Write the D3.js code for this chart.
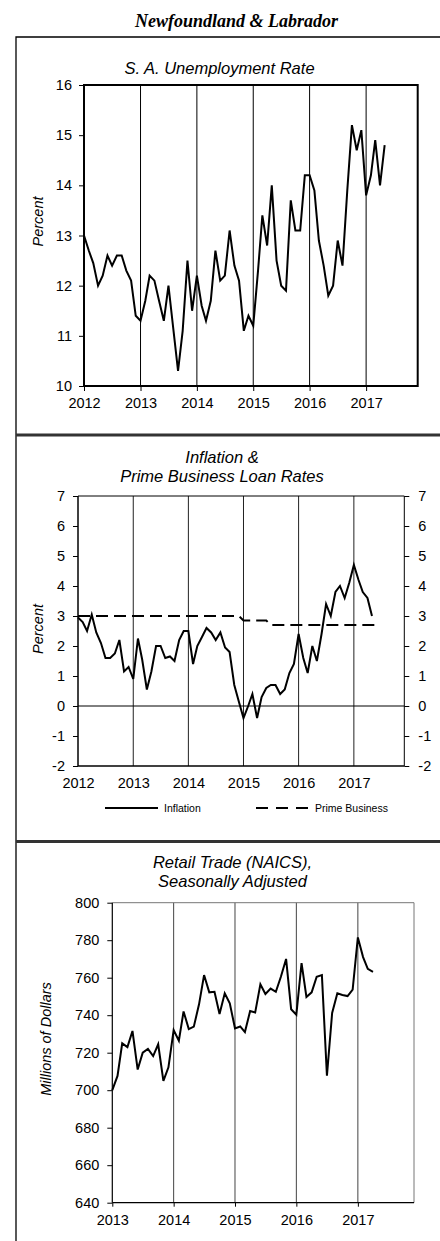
<!DOCTYPE html>
<html>
<head>
<meta charset="utf-8">
<script src="https://cdn.jsdelivr.net/npm/d3@7"></script>
<style>
  body { margin: 0; background: #fff; }
  svg { display: block; }
</style>
</head>
<body>
<div id="chart"></div>
<script>
// Newfoundland & Labrador - three stacked monthly charts

// --- data ---
const years1 = [2012, 2013, 2014, 2015, 2016, 2017];
const years3 = [2013, 2014, 2015, 2016, 2017];

// S.A. unemployment rate, Jan 2012 -> May 2017
const unemployment = [13.0, 12.7, 12.45, 12.0, 12.2, 12.6, 12.4, 12.6, 12.6, 12.3, 12.1, 11.4,
  11.3, 11.7, 12.2, 12.1, 11.7, 11.3, 12.0, 11.15, 10.3, 11.1, 12.5, 11.5,
  12.2, 11.6, 11.3, 11.7, 12.7, 12.1, 12.2, 13.1, 12.4, 12.1, 11.1, 11.4,
  11.2, 12.3, 13.4, 12.8, 14.0, 12.5, 12.0, 11.9, 13.7, 13.1, 13.1, 14.2,
  14.2, 13.9, 12.9, 12.4, 11.8, 12.0, 12.9, 12.4, 13.9, 15.2, 14.7, 15.1,
  13.8, 14.2, 14.9, 14.0, 14.8];

// Inflation, Jan 2012 -> May 2017
const inflation = [2.95, 2.8, 2.5, 3.05, 2.45, 2.1, 1.6, 1.6, 1.75, 2.2, 1.15, 1.3,
  0.9, 2.25, 1.55, 0.55, 1.15, 2.0, 2.0, 1.6, 1.65, 1.5, 2.2, 2.5,
  2.5, 1.4, 2.0, 2.3, 2.6, 2.45, 2.2, 2.45, 1.95, 1.8, 0.7, 0.15,
  -0.4, 0.0, 0.4, -0.4, 0.3, 0.6, 0.7, 0.7, 0.4, 0.55, 1.1, 1.4,
  2.4, 1.6, 1.1, 2.0, 1.5, 2.4, 3.4, 3.0, 3.8, 4.0, 3.6, 4.1,
  4.7, 4.2, 3.8, 3.6, 3.0];

// Prime business rate, Jan 2012 -> Jun 2017
const prime = [3.0, 3.0, 3.0, 3.0, 3.0, 3.0, 3.0, 3.0, 3.0, 3.0, 3.0, 3.0,
  3.0, 3.0, 3.0, 3.0, 3.0, 3.0, 3.0, 3.0, 3.0, 3.0, 3.0, 3.0,
  3.0, 3.0, 3.0, 3.0, 3.0, 3.0, 3.0, 3.0, 3.0, 3.0, 3.0, 3.0,
  2.85, 2.85, 2.85, 2.85, 2.85, 2.85, 2.7, 2.7, 2.7, 2.7, 2.7, 2.7,
  2.7, 2.7, 2.7, 2.7, 2.7, 2.7, 2.7, 2.7, 2.7, 2.7, 2.7, 2.7,
  2.7, 2.7, 2.7, 2.7, 2.7, 2.7];

// Retail trade (NAICS) s.a., millions of $, Jan 2013 -> Apr 2017
const retail = [700, 707.6, 725, 723, 731.6, 711, 720, 722, 718.2, 724.5, 705, 712.2,
  732.1, 726.4, 742, 732.6, 733.9, 745.8, 761.4, 752.2, 752.5, 740.6, 751.7, 746.3,
  733, 734, 731, 742.2, 741.4, 756.5, 751.3, 754.2, 752.5, 760.5, 770, 743.2,
  740.3, 767.8, 749.7, 752.2, 760.5, 761.4, 707.7, 741.2, 751.7, 750.8, 750.2, 753.6,
  781.5, 771, 764.7, 763.1];

const start1 = new Date(2012, 0, 1);
const start3 = new Date(2013, 0, 1);
const end = new Date(2017, 11, 1);

function monthly(values, start) {
  return values.map(function(v, i) { return {date: d3.timeMonth.offset(start, i), value: v}; });
}

const font = "'Liberation Sans', Arial, sans-serif";
const plain = function(d) { return String(d); };

const svg = d3.select("#chart").append("svg")
  .attr("width", 440)
  .attr("height", 1241);

// outer box + separators
svg.append("path")
  .attr("d", "M16,1241V37H440")
  .attr("fill", "none")
  .attr("stroke", "#000")
  .attr("stroke-width", 1.3);

[435, 841.5].forEach(function(y) {
  svg.append("line")
    .attr("x1", 16).attr("x2", 440)
    .attr("y1", y).attr("y2", y)
    .attr("stroke", "#333")
    .attr("stroke-width", 3);
});

svg.append("text")
  .attr("x", 236.5)
  .attr("y", 27)
  .attr("text-anchor", "middle")
  .attr("font-family", "'Liberation Serif', 'Times New Roman', serif")
  .attr("font-weight", "bold")
  .attr("font-style", "italic")
  .attr("font-size", 18)
  .text("Newfoundland & Labrador");

function styleAxis(g) {
  g.attr("font-family", font).attr("font-size", 14.5);
  g.select(".domain").remove();
  g.selectAll(".tick line").attr("stroke", "#000");
  g.selectAll(".tick text").attr("fill", "#000");
}

function title(lines, x, y) {
  lines.forEach(function(t, i) {
    svg.append("text")
      .attr("x", x)
      .attr("y", y + i * 18.5)
      .attr("text-anchor", "middle")
      .attr("font-family", font)
      .attr("font-style", "italic")
      .attr("font-size", 16.5)
      .text(t);
  });
}

function yLabel(t, x, y) {
  svg.append("text")
    .attr("transform", "translate(" + x + "," + y + ") rotate(-90)")
    .attr("text-anchor", "middle")
    .attr("font-family", font)
    .attr("font-style", "italic")
    .attr("font-size", 14.5)
    .text(t);
}

// ---------- Graph 1: unemployment ----------
const x1 = d3.scaleTime().domain([start1, end]).range([84, 417.7]);
const y1 = d3.scaleLinear().domain([10, 16]).range([386, 85]);

title(["S. A. Unemployment Rate"], 219.5, 74);
yLabel("Percent", 42.5, 221.5);

svg.append("g")
  .selectAll("line")
  .data(years1.slice(1))
  .enter().append("line")
  .attr("x1", function(d) { return x1(new Date(d, 0, 1)); })
  .attr("x2", function(d) { return x1(new Date(d, 0, 1)); })
  .attr("y1", y1(10)).attr("y2", y1(16))
  .attr("stroke", "#000")
  .attr("stroke-width", 1);

svg.append("g")
  .attr("transform", "translate(84,0)")
  .call(d3.axisLeft(y1).tickValues([10, 11, 12, 13, 14, 15, 16]).tickSize(5).tickPadding(7).tickFormat(plain))
  .call(styleAxis);

svg.append("g")
  .attr("transform", "translate(0,386)")
  .call(d3.axisBottom(x1).tickValues(years1.map(function(d) { return new Date(d, 0, 1); }))
    .tickFormat(d3.timeFormat("%Y")).tickSize(5).tickPadding(7))
  .call(styleAxis);

svg.append("rect")
  .attr("x", 84).attr("y", 85)
  .attr("width", 417.7 - 84).attr("height", 386 - 85)
  .attr("fill", "none")
  .attr("stroke", "#000")
  .attr("stroke-width", 2);

svg.append("path")
  .datum(monthly(unemployment, start1))
  .attr("fill", "none")
  .attr("stroke", "#000")
  .attr("stroke-width", 2)
  .attr("d", d3.line().x(function(d) { return x1(d.date); }).y(function(d) { return y1(d.value); }));

// ---------- Graph 2: inflation & prime ----------
const x2 = d3.scaleTime().domain([start1, end]).range([78, 404.3]);
const y2 = d3.scaleLinear().domain([-2, 7]).range([766, 496]);

title(["Inflation &", "Prime Business Loan Rates"], 222, 463);
yLabel("Percent", 42.5, 629);

svg.append("g")
  .selectAll("line")
  .data(years1.slice(1))
  .enter().append("line")
  .attr("x1", function(d) { return x2(new Date(d, 0, 1)); })
  .attr("x2", function(d) { return x2(new Date(d, 0, 1)); })
  .attr("y1", y2(-2)).attr("y2", y2(7))
  .attr("stroke", "#222")
  .attr("stroke-width", 1);

const ticks2 = [-2, -1, 0, 1, 2, 3, 4, 5, 6, 7];
svg.append("g")
  .attr("transform", "translate(78,0)")
  .call(d3.axisLeft(y2).tickValues(ticks2).tickSize(5).tickPadding(8).tickFormat(plain))
  .call(styleAxis);

svg.append("g")
  .attr("transform", "translate(404.3,0)")
  .call(d3.axisRight(y2).tickValues(ticks2).tickSize(5).tickPadding(9).tickFormat(plain))
  .call(styleAxis);

svg.append("g")
  .attr("transform", "translate(0,766)")
  .call(d3.axisBottom(x2).tickValues(years1.map(function(d) { return new Date(d, 0, 1); }))
    .tickFormat(d3.timeFormat("%Y")).tickSize(0).tickPadding(12))
  .call(styleAxis);

// frame + zero line
svg.append("line").attr("x1", 78).attr("x2", 78).attr("y1", 496).attr("y2", 766).attr("stroke", "#000").attr("stroke-width", 1.5);
svg.append("line").attr("x1", 404.3).attr("x2", 404.3).attr("y1", 496).attr("y2", 766).attr("stroke", "#000").attr("stroke-width", 1);
svg.append("line").attr("x1", 78).attr("x2", 404.3).attr("y1", 496).attr("y2", 496).attr("stroke", "#000").attr("stroke-width", 1);
svg.append("line").attr("x1", 78).attr("x2", 404.3).attr("y1", 766).attr("y2", 766).attr("stroke", "#000").attr("stroke-width", 1.5);
svg.append("line").attr("x1", 78).attr("x2", 404.3).attr("y1", y2(0)).attr("y2", y2(0)).attr("stroke", "#000").attr("stroke-width", 1);

const line2 = d3.line().x(function(d) { return x2(d.date); }).y(function(d) { return y2(d.value); });

svg.append("path")
  .datum(monthly(prime, start1))
  .attr("fill", "none")
  .attr("stroke", "#000")
  .attr("stroke-width", 2)
  .attr("stroke-dasharray", "12,6")
  .attr("d", line2);

svg.append("path")
  .datum(monthly(inflation, start1))
  .attr("fill", "none")
  .attr("stroke", "#000")
  .attr("stroke-width", 2)
  .attr("d", line2);

// legend
const legend = svg.append("g")
  .attr("font-family", font)
  .attr("font-size", 10.5);

legend.append("line").attr("x1", 105).attr("x2", 158).attr("y1", 808).attr("y2", 808)
  .attr("stroke", "#000").attr("stroke-width", 2);
legend.append("text").attr("x", 164).attr("y", 811.5).text("Inflation");
legend.append("line").attr("x1", 256).attr("x2", 308).attr("y1", 808).attr("y2", 808)
  .attr("stroke", "#000").attr("stroke-width", 2).attr("stroke-dasharray", "12,8");
legend.append("text").attr("x", 315).attr("y", 811.5).text("Prime Business");

// ---------- Graph 3: retail trade ----------
const x3 = d3.scaleTime().domain([start3, end]).range([112.3, 414]);
const y3 = d3.scaleLinear().domain([640, 800]).range([1202.7, 902.7]);

title(["Retail Trade (NAICS),", "Seasonally Adjusted"], 232.5, 868);
yLabel("Millions of Dollars", 50.5, 1039);

svg.append("g")
  .selectAll("line")
  .data(years3.slice(1))
  .enter().append("line")
  .attr("x1", function(d) { return x3(new Date(d, 0, 1)); })
  .attr("x2", function(d) { return x3(new Date(d, 0, 1)); })
  .attr("y1", y3(640)).attr("y2", y3(800))
  .attr("stroke", "#444")
  .attr("stroke-width", 1);

svg.append("g")
  .attr("transform", "translate(112.3,0)")
  .call(d3.axisLeft(y3).tickValues(d3.range(640, 801, 20)).tickSize(5).tickPadding(8).tickFormat(plain))
  .call(styleAxis);

svg.append("g")
  .attr("transform", "translate(0,1202.7)")
  .call(d3.axisBottom(x3).tickValues(years3.map(function(d) { return new Date(d, 0, 1); }))
    .tickFormat(d3.timeFormat("%Y")).tickSize(4).tickPadding(8))
  .call(styleAxis);

svg.append("line").attr("x1", 112.3).attr("x2", 414).attr("y1", 902.7).attr("y2", 902.7).attr("stroke", "#777").attr("stroke-width", 1);
svg.append("line").attr("x1", 414).attr("x2", 414).attr("y1", 902.7).attr("y2", 1202.7).attr("stroke", "#777").attr("stroke-width", 1);
svg.append("line").attr("x1", 112.3).attr("x2", 112.3).attr("y1", 902.7).attr("y2", 1202.7).attr("stroke", "#000").attr("stroke-width", 1.2);
svg.append("line").attr("x1", 112.3).attr("x2", 414).attr("y1", 1202.7).attr("y2", 1202.7).attr("stroke", "#000").attr("stroke-width", 1.2);

svg.append("path")
  .datum(monthly(retail, start3))
  .attr("fill", "none")
  .attr("stroke", "#000")
  .attr("stroke-width", 2)
  .attr("d", d3.line().x(function(d) { return x3(d.date); }).y(function(d) { return y3(d.value); }));
</script>
</body>
</html>
